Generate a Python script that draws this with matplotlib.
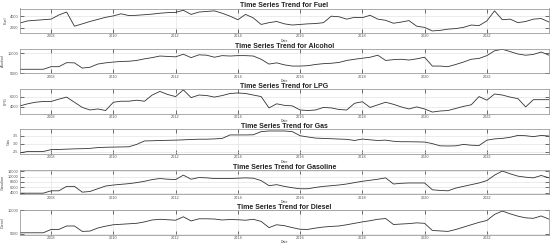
import numpy as np
import pandas as pd
import matplotlib
matplotlib.use("Agg")
import matplotlib.pyplot as plt
import matplotlib.dates as mdates

# quarterly readings, Jan 2007 .. Jan 2024
dates = pd.date_range("2007-01-01", periods=69, freq="QS")

fuel = [2850, 3200, 3300, 3400, 3500, 4200, 4700, 2300, 2700, 3100, 3450, 3800,
        4050, 4400, 4100, 4150, 4250, 4350, 4500, 4600, 4650, 5000, 4300, 4700,
        4800, 4900, 4500, 4000, 3400, 4300, 3700, 2600, 2900, 3100, 2700, 2500,
        2600, 2700, 2750, 2900, 4000, 3900, 3500, 3800, 3750, 4150, 3500, 3300,
        2800, 3000, 3250, 2300, 2100, 1500, 1600, 1800, 1900, 2100, 2500, 2400,
        3200, 4900, 3400, 3500, 2900, 3100, 3500, 3600, 3000]

alcohol = [6000, 6000, 6000, 6000, 6650, 6650, 7650, 7600, 6300, 6500, 7300, 7600,
           7800, 7950, 8000, 8200, 8600, 8900, 9300, 9200, 9100, 9750, 8900, 9600,
           9500, 9000, 9400, 9300, 9400, 9400, 9300, 8500, 7300, 7600, 7100, 6800,
           6800, 6900, 7200, 7400, 7500, 7700, 8200, 8500, 8750, 9000, 9500, 8200,
           8400, 8500, 8300, 8600, 9000, 6800, 6800, 6650, 7200, 7800, 8500, 8700,
           9400, 10600, 11000, 10400, 9800, 9500, 9700, 10300, 9500]

lpg = [4200, 4600, 4900, 5050, 5050, 5500, 5900, 4900, 3900, 3400, 3600, 3300,
       4900, 5100, 5100, 5300, 5100, 6300, 7000, 6400, 6000, 7300, 5800, 6300,
       6200, 5900, 6200, 6600, 6700, 6600, 6300, 6000, 3800, 4600, 4300, 4200,
       3400, 3300, 3400, 3900, 3800, 3500, 3400, 4700, 5000, 3900, 4400, 4900,
       4500, 4000, 3600, 4000, 3600, 3000, 3200, 3300, 3700, 4100, 4400, 6000,
       5300, 6500, 6300, 5900, 5600, 4000, 5400, 5400, 5400]

gas = [2.42, 2.5, 2.5, 2.5, 2.62, 2.63, 2.65, 2.67, 2.68, 2.7, 2.75, 2.77,
       2.78, 2.79, 2.8, 2.95, 3.17, 3.18, 3.2, 3.21, 3.22, 3.24, 3.26, 3.28,
       3.28, 3.3, 3.33, 3.55, 3.55, 3.55, 3.56, 3.76, 3.8, 3.8, 3.8, 3.76,
       3.5, 3.42, 3.35, 3.33, 3.31, 3.29, 3.27, 3.2, 3.29, 3.24, 3.2, 3.22,
       3.15, 3.12, 3.12, 3.11, 3.1, 3.0, 2.86, 2.85, 2.86, 2.95, 2.9, 2.88,
       3.22, 3.3, 3.33, 3.4, 3.52, 3.5, 3.44, 3.52, 3.48]

gasoline = [3875, 3875, 3875, 3875, 4750, 4750, 6375, 6375, 4250, 4500, 5500, 6500,
            6875, 7125, 7375, 7750, 8250, 8875, 9250, 9000, 8875, 10500, 9000, 9625,
            9500, 9250, 9250, 9250, 9375, 9500, 9375, 8500, 6625, 7000, 6375, 5875,
            5500, 5500, 6000, 6375, 6625, 6875, 7250, 7750, 8250, 8625, 9000, 9500,
            7250, 7500, 7625, 7625, 7625, 5125, 4875, 4750, 5750, 6375, 7000, 7625,
            8500, 10500, 12000, 11000, 10125, 9750, 9500, 10375, 9500]

diesel = [5210, 5210, 5210, 5210, 5920, 5920, 6640, 6640, 5500, 5570, 6210, 6600,
          6900, 7000, 7100, 7200, 7500, 7900, 8050, 7950, 7850, 8570, 7700, 8150,
          8150, 8100, 7900, 8000, 7950, 7850, 8050, 7600, 6300, 6900, 6700, 6300,
          5950, 5920, 6200, 6420, 6550, 6640, 6900, 7200, 7500, 7750, 8050, 8210,
          6950, 7050, 7140, 7300, 7200, 5700, 5600, 5500, 5900, 6400, 6900, 7400,
          7800, 9070, 9780, 9200, 8700, 8350, 8250, 8750, 8070]

names = ["Fuel", "Alcohol", "LPG", "Gas", "Gasoline", "Diesel"]
series = [fuel, alcohol, lpg, gas, gasoline, diesel]
ylims = [(1150, 5300), (5000, 11100), (2700, 7450), (2.35, 3.9), (3500, 12500), (4850, 10000)]
yticks = [[2000, 4000], [5000, 10000], [4000, 6000], [2.5, 3, 3.5],
          [4000, 6000, 8000, 10000, 12000], [5000, 10000]]

plt.rcParams["font.family"] = ["Liberation Sans", "DejaVu Sans"]
fig = plt.figure(figsize=(5.5, 2.46), dpi=100)

W, H = 550.0, 246.0
for k, (name, vals) in enumerate(zip(names, series)):
    top = 8.5 + 40.3 * k
    ax = fig.add_axes([20 / W, 1 - (top + 24.5) / H, 529 / W, 24.5 / H])
    ax.plot(dates, vals, color="#333333", linewidth=0.6)
    ax.set_xlim(pd.Timestamp("2007-01-01"), pd.Timestamp("2023-12-31"))
    ax.set_ylim(*ylims[k])
    ax.set_yticks(yticks[k])
    ax.xaxis.set_major_locator(mdates.YearLocator(2))
    ax.xaxis.set_major_formatter(mdates.DateFormatter("%Y"))
    ax.grid(True, color="#dddddd", linewidth=0.4)
    ax.tick_params(direction="in", length=3, width=0.6, labelsize=2.8,
                   top=True, right=True, pad=1.0, colors="#555555")
    for s in ax.spines.values():
        s.set_color("#888888")
        s.set_linewidth(0.5)
    ax.set_title(f"Time Series Trend for {name}", fontsize=5, fontweight="bold",
                 pad=0.8, color="#222222")
    ax.set_ylabel(name, fontsize=2.8, labelpad=2, color="#444444")
    ax.set_xlabel("Date", fontsize=2.6, labelpad=0.2, color="#444444")

fig.savefig("out.png", dpi=100)
